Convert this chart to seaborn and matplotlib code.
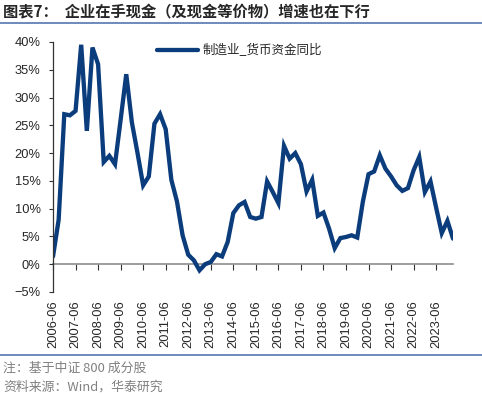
import numpy as np
import pandas as pd
import matplotlib
matplotlib.use('Agg')
import matplotlib.pyplot as plt
import matplotlib.ticker as mticker
from matplotlib.lines import Line2D
import seaborn as sns

# Data: quarterly YoY growth of cash holdings (manufacturing, CSI 800), %

quarters = pd.period_range('2006Q2', '2024Q1', freq='Q')
growth = [1.4, 8.0, 27.0,
          26.8, 27.6, 39.5, 24.0,
          39.0, 36.0, 18.4, 19.5,
          18.0, 26.0, 34.2, 25.5,
          20.0, 14.2, 15.8, 25.3,
          27.0, 24.3, 15.2, 11.3,
          5.2, 1.7, 0.7, -1.1,
          0.0, 0.4, 1.8, 1.4,
          4.0, 9.2, 10.6, 11.2,
          8.5, 8.2, 8.5, 14.9,
          13.0, 11.0, 21.3, 19.0,
          20.0, 18.0, 13.1, 15.2,
          8.7, 9.3, 6.4, 2.9,
          4.7, 4.9, 5.2, 4.8,
          11.3, 16.2, 16.7, 19.6,
          17.2, 15.8, 14.2, 13.2,
          13.7, 16.9, 19.3, 13.0,
          14.9, 10.2, 5.6, 7.8,
          4.6]
series_name = '制造业_货币资金同比'
title = '图表7：  企业在手现金（及现金等价物）增速也在下行'
notes = ['注：基于中证 800 成分股', '资料来源：Wind，华泰研究']

labels = [f'{q.year}-{q.end_time.month:02d}' for q in quarters]
df = pd.DataFrame({'idx': np.arange(len(growth)), 'growth': growth, 'label': labels})

sns.set_style('white')
plt.rcParams['font.family'] = ['Liberation Sans', 'Noto Sans CJK SC', 'DejaVu Sans']

navy = '#0b3c7c'
frame_blue = '#5577b0'
cjk = ['Noto Sans CJK SC', 'DejaVu Sans']

fig = plt.figure(figsize=(4.82, 3.95), dpi=100)
ax = fig.add_axes([0.110, 0.2608, 0.8299, 0.6329])

sns.lineplot(data=df, x='idx', y='growth', ax=ax, color=navy, lw=3.1,
             label=series_name, solid_joinstyle='miter')

ax.set_xlim(0, len(growth) - 1)
ax.set_ylim(-5, 40)
ax.set_yticks(np.arange(-5, 41, 5))
ax.yaxis.set_major_formatter(mticker.PercentFormatter(decimals=0))
ax.tick_params(axis='y', direction='out', length=3, width=0.8, color='#333333',
               labelsize=9.3, pad=6, left=True)

year_ticks = df.idx[df.label.str.endswith('-06')]
ax.set_xticks(year_ticks)
ax.set_xticklabels(df.label[year_ticks.index], rotation=90, va='top', ha='center')
ax.tick_params(axis='x', length=0, labelsize=9.3, pad=6)
ax.set_xlabel('')
ax.set_ylabel('')

for s in ['top', 'right', 'bottom']:
    ax.spines[s].set_visible(False)
ax.spines['left'].set_color('#333333')
ax.spines['left'].set_linewidth(0.9)

# x axis line at zero with downward ticks
secax = ax.secondary_xaxis(5 / 45)
secax.set_xticks(year_ticks)
secax.tick_params(axis='x', length=4, width=0.8, color='#333333', labelbottom=False)
secax.spines['bottom'].set_color('#8c8c8c')
secax.spines['bottom'].set_linewidth(1.2)

leg = ax.legend(loc='center left', bbox_to_anchor=(0.259, 0.965), frameon=False,
                borderpad=0, borderaxespad=0, handlelength=3.3, handletextpad=0.4,
                prop={'family': ['Noto Sans CJK SC'], 'size': 9})

fig.text(0.006, 1 - 12.5 / 395, title, fontsize=11, fontweight='bold',
         family=cjk, va='center', ha='left')
fig.add_artist(Line2D([0, 1], [1 - 22.5 / 395] * 2, color=frame_blue, lw=1.2))
fig.add_artist(Line2D([0, 1], [1 - 355 / 395] * 2, color=frame_blue, lw=1.2))
fig.text(0.006, 1 - 368 / 395, notes[0], fontsize=9.3, color='#808080',
         family=cjk, va='center', ha='left')
fig.text(0.006, 1 - 387 / 395, notes[1], fontsize=9.3, color='#808080',
         family=cjk, va='center', ha='left')

fig.savefig('out.png', dpi=100)
